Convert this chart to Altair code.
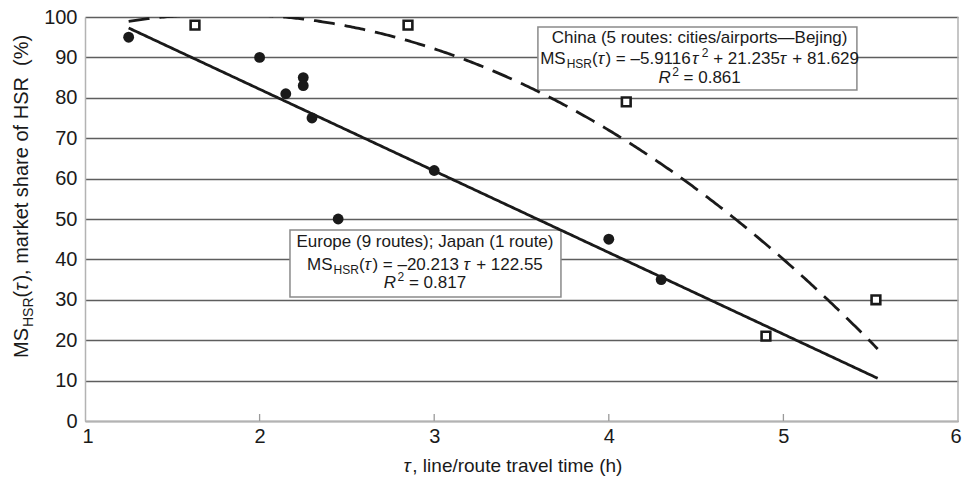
import altair as alt
import pandas as pd

FONT = "Liberation Sans"
INK = "#1a1a1a"
GRID = "#5e5e5e"
EDGE = "#b3b3b3"

# Europe (9 routes) and Japan (1 route): travel time (h) and HSR market share (%)
eu_time = [1.25, 2.0, 2.15, 2.25, 2.25, 2.3, 2.45, 3.0, 4.0, 4.3]
eu_share = [95, 90, 81, 85, 83, 75, 50, 62, 45, 35]

# China (5 routes: cities/airports to Beijing)
cn_time = [1.63, 2.85, 4.1, 4.9, 5.53]
cn_share = [98, 98, 79, 21, 30]

# trend-line coefficients, highest power first
eu_fit = [-20.213, 122.55]
cn_fit = [-5.9116, 21.235, 81.629]
fit_span = [1.25, 5.54]

x_ticks = [1, 2, 3, 4, 5, 6]
y_ticks = [0, 10, 20, 30, 40, 50, 60, 70, 80, 90, 100]
inner_ticks = [2, 3, 4, 5]

# annotation boxes: [x1, x2, y_top, y_bottom] in data units
cn_box = [3.594, 5.421, 97.5, 81.9]
eu_box = [2.174, 3.726, 47.3, 30.7]

W, H = 873, 404

# Arial / Liberation Sans advance widths (per 1000 em)
ADV = {' ': 278, '(': 333, ')': 333, ',': 278, '.': 278, '%': 889, '-': 333,
       '=': 584, '+': 584, ':': 278, ';': 278, '/': 278, '\u2013': 556,
       '\u2014': 1000, '\u00b2': 333, '\u03c4': 460}
ADV.update({d: 556 for d in "0123456789"})
ADV.update(dict(zip("ABCDEFGHIJKLMNOPQRSTUVWXYZ",
                    [667, 667, 722, 722, 667, 611, 778, 722, 278, 500, 667, 556, 833,
                     722, 778, 667, 778, 722, 667, 611, 722, 667, 944, 667, 667, 611])))
ADV.update(dict(zip("abcdefghijklmnopqrstuvwxyz",
                    [556, 556, 500, 556, 556, 278, 556, 556, 222, 222, 500, 222, 833,
                     556, 556, 556, 556, 333, 500, 278, 556, 500, 722, 500, 500, 500])))


def text_width(s, size):
    return sum(ADV.get(ch, 556) for ch in s) * size / 1000.0


def text_runs(runs, x, y, center=True, dy0=0.0, angle=None):
    """Lay out mixed-style runs (text, size, italic, baseline shift[, lead gap px])."""
    runs = [r if len(r) == 5 else (*r, 0.0) for r in runs]
    total = sum(text_width(t, s) + g for t, s, _, _, g in runs)
    pos = -total / 2.0 if center else 0.0
    layers = []
    for t, s, italic, rise, gap in runs:
        pos += gap
        body = t.strip()
        lead = text_width(t[: len(t) - len(t.lstrip())], s)
        kw = dict(align="left", baseline="alphabetic", font=FONT, fontSize=s,
                  color=INK, dx=pos + lead, dy=dy0 + rise)
        if italic:
            kw["fontStyle"] = "italic"
        if angle is not None:
            kw["angle"] = angle
        layers.append(
            alt.Chart(pd.DataFrame({"t": [body]})).mark_text(**kw)
            .encode(x=x, y=y, text="t:N")
        )
        pos += text_width(t, s)
    return layers


xs = alt.Scale(domain=[1, 6], nice=False, zero=False)
ys = alt.Scale(domain=[0, 100], nice=False)
x_axis = alt.Axis(values=x_ticks, title=None, grid=False, ticks=False, format="d",
                  labelFlush=True, labelFlushOffset=3, labelPadding=5)
y_axis = alt.Axis(values=y_ticks, title=None, grid=True, ticks=False, labelPadding=8)


def X(field):
    return alt.X(field, type="quantitative", scale=xs, axis=x_axis)


def Y(field):
    return alt.Y(field, type="quantitative", scale=ys, axis=y_axis)


eu_df = pd.DataFrame({"tau": eu_time, "share": eu_share})
cn_df = pd.DataFrame({"tau": cn_time, "share": cn_share})

circles = alt.Chart(eu_df).mark_circle(size=118, color=INK, opacity=1).encode(
    x=X("tau"), y=Y("share"))

squares = alt.Chart(cn_df).mark_point(
    shape="square", filled=True, fill="white", stroke=INK, strokeWidth=2.6,
    size=76, opacity=1).encode(x=X("tau"), y=Y("share"))

seq = alt.sequence(fit_span[0], fit_span[1] + 0.005, 0.01, as_="tau")

eu_line = alt.Chart(seq).transform_calculate(
    ms=f"{eu_fit[0]} * datum.tau + {eu_fit[1]}"
).mark_line(color=INK, strokeWidth=2.8, clip=True).encode(x=X("tau"), y=Y("ms"))

cn_line = alt.Chart(seq).transform_calculate(
    ms=f"{cn_fit[0]} * datum.tau * datum.tau + {cn_fit[1]} * datum.tau + {cn_fit[2]}"
).mark_line(color=INK, strokeWidth=2.8, strokeDash=[21, 10], clip=True).encode(
    x=X("tau"), y=Y("ms"))

tick_marks = alt.Chart(pd.DataFrame({"tau": inner_ticks})).mark_rule(
    color="#9a9a9a", strokeWidth=1.3).encode(
    x=X("tau"), y=alt.value(H), y2=alt.value(H - 7))

right_edge = alt.Chart(pd.DataFrame({"tau": [x_ticks[-1]]})).mark_rule(
    color=EDGE, strokeWidth=1.5).encode(x=X("tau"), y=alt.value(0), y2=alt.value(H))


def box(b):
    df = pd.DataFrame({"x1": [b[0]], "x2": [b[1]], "y1": [b[2]], "y2": [b[3]]})
    return alt.Chart(df).mark_rect(fill="white", stroke="#8a8a8a", strokeWidth=1.5).encode(
        x=X("x1"), x2="x2", y=Y("y1"), y2="y2")


TAU = "\u03c4"

# China annotation
cn_cx = alt.datum(4.52)
cn_top = alt.datum(cn_box[2])
cn_text = (
    text_runs([("China (5 routes: cities/airports\u2014Bejing)", 17, False, 0)],
              cn_cx, cn_top, dy0=16)
    + text_runs([("MS", 17, False, 0), ("HSR", 12, False, 4, 1.0), ("(", 17, False, 0),
                 (TAU, 17, True, 0), (")", 17, False, 0), (" = \u20135.9116", 17, False, 0),
                 (TAU, 17, True, 0), ("2", 12, False, -7, 2.0), (" + 21.235", 17, False, 0),
                 (TAU, 17, True, 0), (" + 81.629", 17, False, 0)],
                cn_cx, cn_top, dy0=36.5)
    + text_runs([("R", 17, True, 0), ("2", 12, False, -7, 1.5), (" = 0.861", 17, False, 0)],
                cn_cx, cn_top, dy0=56)
)

# Europe / Japan annotation
eu_cx = alt.datum(2.947)
eu_top = alt.datum(eu_box[2])
eu_text = (
    text_runs([("Europe (9 routes); Japan (1 route)", 17, False, 0)],
              eu_cx, eu_top, dy0=17)
    + text_runs([("MS", 17, False, 0), ("HSR", 12, False, 4.5, 1.0), ("(", 17, False, 0),
                 (TAU, 17, True, 0), (")", 17, False, 0), (" = \u201320.213 ", 17, False, 0),
                 (TAU, 17, True, 0), (" + 122.55", 17, False, 0)],
                eu_cx, eu_top, dy0=40)
    + text_runs([("R", 17, True, 0), ("2", 12, False, -7, 1.5), (" = 0.817", 17, False, 0)],
                eu_cx, eu_top, dy0=58)
)

# axis titles
x_title = text_runs([(TAU, 19, True, 0), (", line/route travel time (h)", 19, False, 0)],
                    alt.value(428), alt.value(455))
y_title = text_runs([("MS", 20, False, 0), ("HSR", 14, False, 5, 1.0), ("(", 20, False, 0),
                     (TAU, 20, True, 0), ("), market share of HSR", 20, False, 0),
                     ("  (%)", 20, False, 0)],
                    alt.value(-57), alt.value(341), center=False, angle=270)

chart = alt.layer(
    tick_marks, right_edge, box(cn_box), box(eu_box),
    eu_line, cn_line, circles, squares,
    *cn_text, *eu_text, *x_title, *y_title,
).properties(
    width=W, height=H,
    autosize=alt.AutoSizeParams(type="none"),
    padding={"left": 85, "top": 17, "right": 4, "bottom": 57},
    background="white",
).configure_view(
    stroke=None
).configure_axis(
    labelFont=FONT, labelFontSize=20, labelColor=INK,
    domainColor=EDGE, domainWidth=1.5,
    gridColor=GRID, gridWidth=1.3,
)

chart.save("out.html", embed_options={"renderer": "svg", "actions": False})
